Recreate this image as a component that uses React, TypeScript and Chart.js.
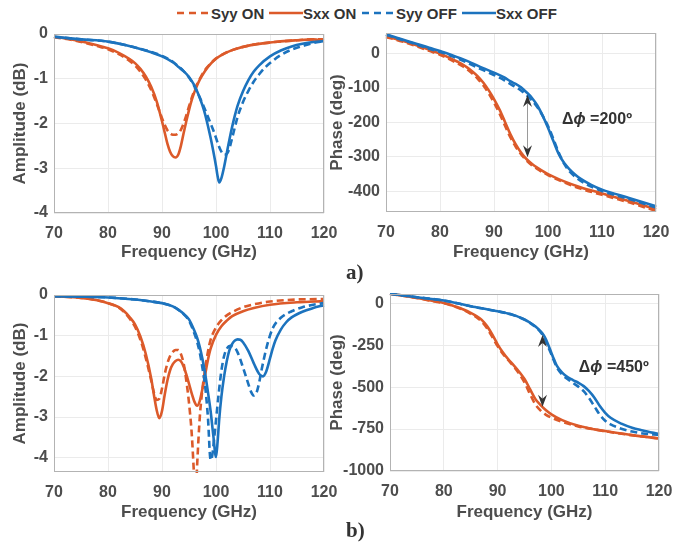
import React, { useEffect, useRef } from "react";
import { Chart, registerables } from "chart.js";
Chart.register(...registerables);

const ORANGE = "#DC5A2A";
const BLUE = "#1C73BE";
const FONT = '"Liberation Sans", Arial, Helvetica, sans-serif';
const TEXT = "#4d4d4d";
const GRID = "#ebebeb";
const BOX = "#b3b3b3";

// ---------- tick labels ----------
const freqTicks = [70, 80, 90, 100, 110, 120];
const ampTicksA = [-4, -3, -2, -1, 0];
const phaseTicksA = [-400, -300, -200, -100, 0];
const ampTicksB = [-4, -3, -2, -1, 0];
const phaseTicksB = [-1000, -750, -500, -250, 0];

const seriesNames = ["Syy ON", "Sxx ON", "Syy OFF", "Sxx OFF"];

// ---------- a) amplitude ----------
const aAmpF_On = [70, 74, 78, 80, 82, 84, 85, 86, 87, 88, 89, 90, 90.5, 91, 91.5, 92, 92.5, 93, 93.5, 94, 94.5, 95, 95.5, 96, 96.5, 97, 98, 99, 100, 101, 103, 106, 110, 115, 118, 120];
const aAmp_SyyOn = [-0.07, -0.15, -0.27, -0.34, -0.45, -0.6, -0.7, -0.84, -1.02, -1.25, -1.55, -1.88, -2.03, -2.15, -2.22, -2.25, -2.25, -2.22, -2.14, -2.0, -1.82, -1.62, -1.43, -1.26, -1.12, -1.0, -0.8, -0.66, -0.55, -0.47, -0.36, -0.26, -0.19, -0.14, -0.12, -0.12];
const aAmp_SxxOn = [-0.06, -0.14, -0.25, -0.32, -0.42, -0.56, -0.65, -0.78, -0.95, -1.18, -1.5, -1.95, -2.2, -2.45, -2.63, -2.73, -2.76, -2.7, -2.5, -2.22, -1.95, -1.7, -1.48, -1.3, -1.15, -1.02, -0.82, -0.67, -0.55, -0.47, -0.36, -0.26, -0.19, -0.14, -0.12, -0.15];
const aAmpF_SyyOff = [70, 75, 80, 85, 88, 90, 92, 93, 94, 95, 96, 97, 98, 99, 99.5, 100, 100.5, 101, 101.5, 102, 102.5, 103, 103.5, 104, 105, 106, 107, 108, 109, 110, 112, 114, 116, 118, 120];
const aAmp_SyyOff = [-0.06, -0.12, -0.17, -0.3, -0.4, -0.49, -0.62, -0.72, -0.83, -0.97, -1.17, -1.42, -1.7, -2.0, -2.15, -2.32, -2.5, -2.63, -2.7, -2.68, -2.55, -2.32, -2.08, -1.85, -1.52, -1.27, -1.06, -0.9, -0.76, -0.65, -0.47, -0.35, -0.27, -0.2, -0.16];
const aAmpF_SxxOff = [70, 75, 80, 85, 88, 90, 92, 93, 94, 95, 96, 96.5, 97, 97.5, 98, 98.5, 99, 99.5, 100, 100.3, 100.6, 101, 101.5, 102, 102.5, 103, 103.5, 104, 105, 106, 107, 108, 110, 112, 114, 116, 118, 120];
const aAmp_SxxOff = [-0.06, -0.12, -0.17, -0.3, -0.41, -0.5, -0.63, -0.73, -0.83, -0.96, -1.15, -1.28, -1.43, -1.6, -1.8, -2.05, -2.32, -2.62, -2.95, -3.18, -3.32, -3.22, -2.97, -2.66, -2.35, -2.07, -1.82, -1.6, -1.28, -1.03, -0.84, -0.7, -0.5, -0.37, -0.28, -0.22, -0.18, -0.16];

// ---------- a) phase ----------
const aPhF_On = [70, 72, 75, 78, 80, 82, 84, 85, 86, 87, 88, 89, 90, 91, 92, 93, 94, 95, 96, 97, 98, 100, 103, 106, 110, 115, 120];
const aPh_SyyOn = [48, 40, 25, 8, -3, -18, -35, -45, -58, -73, -92, -115, -142, -173, -208, -242, -270, -292, -310, -324, -335, -353, -374, -392, -410, -432, -457];
const aPh_SxxOn = [51, 42, 28, 11, 0, -14, -30, -40, -52, -66, -84, -106, -132, -162, -197, -233, -263, -287, -306, -320, -331, -350, -371, -388, -406, -428, -452];
const aPhF_Off = [70, 72, 75, 78, 80, 82, 85, 88, 90, 92, 93, 94, 95, 96, 97, 98, 99, 100, 101, 102, 103, 104, 105, 106, 108, 110, 115, 120];
const aPh_SyyOff = [55, 45, 30, 14, 5, -6, -26, -48, -62, -78, -88, -97, -107, -120, -135, -155, -180, -210, -248, -288, -320, -342, -357, -369, -386, -399, -422, -447];
const aPh_SxxOff = [56, 46, 32, 17, 8, -3, -21, -42, -55, -70, -80, -88, -98, -112, -128, -150, -180, -215, -254, -292, -318, -336, -351, -363, -381, -395, -419, -443];

// ---------- b) amplitude ----------
const bAmpF_SyyOn = [70, 75, 78, 80, 82, 83, 84, 85, 86, 87, 88, 88.5, 89, 89.5, 90, 90.5, 91, 91.5, 92, 92.5, 93, 93.5, 94, 94.5, 95, 95.5, 96, 96.2, 96.5, 97, 97.5, 98, 98.5, 99, 100, 101, 102, 103, 105, 107, 110, 115, 120];
const bAmp_SyyOn = [-0.03, -0.07, -0.13, -0.2, -0.31, -0.42, -0.58, -0.78, -1.1, -1.55, -2.1, -2.4, -2.58, -2.55, -2.3, -1.95, -1.68, -1.5, -1.4, -1.35, -1.35, -1.45, -1.68, -2.1, -2.65, -3.4, -4.6, -5.1, -4.2, -3.0, -2.3, -1.8, -1.4, -1.1, -0.8, -0.62, -0.5, -0.42, -0.3, -0.23, -0.16, -0.11, -0.1];
const bAmpF_SxxOn = [70, 75, 78, 80, 82, 83, 84, 85, 86, 87, 88, 88.5, 89, 89.5, 90, 90.5, 91, 91.5, 92, 92.5, 93, 93.5, 94, 94.5, 95, 95.5, 96, 96.5, 97, 97.5, 98, 98.5, 99, 100, 101, 102, 103, 105, 107, 110, 115, 120];
const bAmp_SxxOn = [-0.03, -0.07, -0.13, -0.2, -0.3, -0.4, -0.54, -0.72, -1.02, -1.45, -2.05, -2.45, -2.82, -3.03, -2.85, -2.45, -2.1, -1.85, -1.7, -1.62, -1.59, -1.63, -1.76, -1.95, -2.18, -2.42, -2.62, -2.72, -2.6, -2.3, -1.95, -1.6, -1.32, -0.98, -0.77, -0.63, -0.52, -0.4, -0.32, -0.24, -0.18, -0.15];
const bAmpF_SyyOff = [70, 75, 80, 85, 88, 90, 92, 93, 94, 95, 96, 96.5, 97, 97.5, 98, 98.5, 99, 99.3, 99.6, 100, 100.5, 101, 101.5, 102, 102.7, 103.5, 104, 105, 106, 106.5, 107, 107.5, 108, 108.5, 109.5, 110.5, 112, 114, 116, 118, 120];
const bAmp_SyyOff = [-0.03, -0.04, -0.06, -0.11, -0.16, -0.2, -0.28, -0.36, -0.47, -0.63, -0.95, -1.15, -1.42, -1.8, -2.25, -3.0, -4.05, -3.95, -3.6, -3.08, -2.42, -1.86, -1.5, -1.32, -1.25, -1.3, -1.41, -1.78, -2.19, -2.38, -2.47, -2.4, -2.15, -1.8, -1.22, -0.82, -0.56, -0.4, -0.3, -0.24, -0.2];
const bAmpF_SxxOff = [70, 75, 80, 85, 88, 90, 92, 93, 94, 95, 96, 96.5, 97, 97.5, 98, 98.5, 99, 99.5, 100, 100.3, 100.6, 101, 101.5, 102, 102.5, 103, 103.5, 104, 104.5, 105, 106, 107, 108, 108.7, 109.3, 110, 110.5, 111, 112, 113, 114, 116, 118, 120];
const bAmp_SxxOff = [-0.03, -0.04, -0.06, -0.11, -0.16, -0.2, -0.28, -0.36, -0.46, -0.6, -0.88, -1.05, -1.28, -1.58, -1.94, -2.38, -2.85, -3.45, -3.98, -3.6, -3.05, -2.5, -2.0, -1.62, -1.35, -1.2, -1.12, -1.09, -1.1, -1.16, -1.38, -1.68, -1.94, -2.0, -1.88, -1.56, -1.32, -1.12, -0.85, -0.67, -0.55, -0.41, -0.32, -0.25];

// ---------- b) phase ----------
const bPhF_On = [70, 75, 78, 80, 82, 83, 84, 85, 86, 87, 88, 89, 90, 91, 92, 93, 94, 95, 96, 97, 98, 99, 100, 102, 105, 108, 110, 115, 120];
const bPh_SyyOn = [55, 31, 12, 0, -20, -32, -46, -63, -82, -108, -147, -200, -256, -302, -340, -377, -420, -472, -540, -602, -640, -665, -682, -707, -734, -752, -763, -787, -806];
const bPh_SxxOn = [56, 32, 14, 2, -18, -28, -42, -58, -75, -98, -135, -186, -245, -294, -335, -370, -408, -452, -510, -570, -607, -638, -662, -697, -731, -752, -762, -786, -806];
const bPhF_Off = [70, 75, 80, 85, 88, 90, 92, 93, 94, 95, 96, 97, 98, 98.5, 99, 99.5, 100, 100.5, 101, 102, 103, 104, 105, 106, 107, 108, 109, 110, 111, 113, 115, 117, 120];
const bPh_SyyOff = [56, 36, 16, -18, -36, -48, -62, -72, -84, -98, -117, -140, -172, -195, -228, -268, -305, -345, -382, -425, -452, -475, -497, -524, -566, -615, -665, -700, -722, -748, -765, -776, -785];
const bPh_SxxOff = [56, 36, 16, -18, -36, -48, -62, -71, -83, -97, -115, -137, -168, -188, -216, -255, -296, -336, -372, -414, -440, -458, -474, -494, -524, -563, -613, -653, -683, -718, -742, -758, -780];

// annotation values (data space)
const arrowA = { x: 96.2, y1: -120, y2: -301, tx: 102.6, ty: -193, text: "=200º" };
const arrowB = { x: 98.2, y1: -189, y2: -617, tx: 105.1, ty: -386, text: "=450º" };

type Series = { name: string; f: number[]; v: number[]; color: string; dashed: boolean };

function makeSeries(fs: number[][], vs: number[][]): Series[] {
  const colors = [ORANGE, ORANGE, BLUE, BLUE];
  const dashed = [true, false, true, false];
  return seriesNames.map((n, i) => ({ name: n, f: fs[i], v: vs[i], color: colors[i], dashed: dashed[i] }));
}

const decoPlugin = {
  id: "panelDeco",
  afterDatasetsDraw(chart: any, _args: any, opts: any) {
    const { ctx, chartArea: a } = chart;
    ctx.save();
    ctx.strokeStyle = BOX;
    ctx.lineWidth = 1;
    ctx.strokeRect(a.left + 0.5, a.top + 0.5, a.right - a.left - 1, a.bottom - a.top - 1);
    const ar = opts && opts.arrow;
    if (ar) {
      const xs = chart.scales.x;
      const ys = chart.scales.y;
      const px = Math.round(xs.getPixelForValue(ar.x)) + 0.5;
      const p1 = ys.getPixelForValue(ar.y1);
      const p2 = ys.getPixelForValue(ar.y2);
      ctx.strokeStyle = "#9a9a9a";
      ctx.lineWidth = 1;
      ctx.beginPath();
      ctx.moveTo(px, p1 + 6);
      ctx.lineTo(px, p2 - 6);
      ctx.stroke();
      ctx.fillStyle = "#333";
      ctx.beginPath();
      ctx.moveTo(px, p1);
      ctx.lineTo(px - 4.5, p1 + 12);
      ctx.lineTo(px, p1 + 8);
      ctx.lineTo(px + 4.5, p1 + 12);
      ctx.closePath();
      ctx.fill();
      ctx.beginPath();
      ctx.moveTo(px, p2);
      ctx.lineTo(px - 4.5, p2 - 12);
      ctx.lineTo(px, p2 - 8);
      ctx.lineTo(px + 4.5, p2 - 12);
      ctx.closePath();
      ctx.fill();
      let tx = xs.getPixelForValue(ar.tx);
      const ty = ys.getPixelForValue(ar.ty);
      ctx.fillStyle = "#333";
      ctx.textBaseline = "middle";
      ctx.textAlign = "left";
      ctx.font = `bold 16px ${FONT}`;
      ctx.fillText("Δ", tx, ty);
      tx += ctx.measureText("Δ").width;
      ctx.font = `italic bold 16px ${FONT}`;
      ctx.fillText("ϕ", tx, ty);
      tx += ctx.measureText("ϕ").width;
      ctx.font = `bold 16px ${FONT}`;
      ctx.fillText(" " + ar.text, tx, ty);
    }
    ctx.restore();
  },
};

type Rect = { l: number; t: number; w: number; h: number };
type Area = { l: number; t: number; r: number; b: number };

type PanelProps = {
  canvas: Rect;
  area: Area;
  yTitleX: number;
  xTitleY: number;
  yTitle: string;
  yMin: number;
  yMax: number;
  yTicks: number[];
  series: Series[];
  arrow?: any;
};

function Panel(p: PanelProps) {
  const ref = useRef<HTMLCanvasElement>(null);
  useEffect(() => {
    const c = ref.current!;
    const { canvas, area } = p;
    const padTop = area.t - canvas.t;
    const yW = area.l - canvas.l;
    const padRight = canvas.l + canvas.w - area.r;
    const xH = canvas.t + canvas.h - area.b;
    const titleSize = 17;
    const lh = titleSize * 1.2;
    const yTitlePad = p.yTitleX - canvas.l - lh / 2;
    const xTitlePad = canvas.t + canvas.h - p.xTitleY - lh / 2;
    const tickFont = { family: FONT, size: 16, weight: "bold" as const };
    const titleFont = { family: FONT, size: titleSize, weight: "bold" as const };
    const n = p.series.length;
    const chart = new Chart(c, {
      type: "line",
      data: {
        datasets: p.series.map((s, i) => ({
          label: s.name,
          data: s.f.map((x, k) => ({ x, y: s.v[k] })),
          borderColor: s.color,
          backgroundColor: s.color,
          borderWidth: 2.6,
          borderDash: s.dashed ? [7, 4] : [],
          pointRadius: 0,
          fill: false,
          cubicInterpolationMode: "monotone",
          order: n - 1 - i,
          clip: 1,
        })) as any,
      },
      options: {
        responsive: false,
        animation: false,
        events: [],
        layout: { padding: { left: 0, top: padTop, right: padRight, bottom: 0 } },
        plugins: {
          legend: { display: false },
          tooltip: { enabled: false },
          panelDeco: { arrow: p.arrow },
        } as any,
        scales: {
          x: {
            type: "linear",
            min: 70,
            max: 120,
            afterBuildTicks: (s: any) => {
              s.ticks = freqTicks.map((v) => ({ value: v }));
            },
            afterFit: (s: any) => {
              s.height = xH;
              s.paddingLeft = 0;
              s.paddingRight = 0;
              s.paddingTop = 0;
              s.paddingBottom = 0;
            },
            ticks: {
              callback: (v: any) => String(v),
              font: tickFont,
              color: TEXT,
              padding: 11,
              maxRotation: 0,
              autoSkip: false,
            },
            grid: { color: GRID, drawTicks: false, lineWidth: 1 },
            border: { display: false },
            title: {
              display: true,
              text: "Frequency (GHz)",
              font: titleFont,
              color: TEXT,
              padding: { top: 0, bottom: xTitlePad },
            },
          },
          y: {
            type: "linear",
            min: p.yMin,
            max: p.yMax,
            afterBuildTicks: (s: any) => {
              s.ticks = p.yTicks.map((v) => ({ value: v }));
            },
            afterFit: (s: any) => {
              s.width = yW;
              s.paddingLeft = 0;
              s.paddingRight = 0;
              s.paddingTop = 0;
              s.paddingBottom = 0;
            },
            ticks: {
              callback: (v: any) => String(v),
              font: tickFont,
              color: TEXT,
              padding: 6,
              autoSkip: false,
            },
            grid: { color: GRID, drawTicks: false, lineWidth: 1 },
            border: { display: false },
            title: {
              display: true,
              text: p.yTitle,
              font: titleFont,
              color: TEXT,
              padding: { top: yTitlePad, bottom: 0 },
            },
          },
        },
      } as any,
      plugins: [decoPlugin as any],
    });
    return () => chart.destroy();
  }, []);
  return (
    <canvas
      ref={ref}
      width={p.canvas.w}
      height={p.canvas.h}
      style={{ position: "absolute", left: p.canvas.l, top: p.canvas.t, width: p.canvas.w, height: p.canvas.h }}
    />
  );
}

const legendLayout = [
  { x: 177, color: ORANGE, dashed: true },
  { x: 269, color: ORANGE, dashed: false },
  { x: 362, color: BLUE, dashed: true },
  { x: 462, color: BLUE, dashed: false },
];

function Legend() {
  return (
    <>
      {seriesNames.map((name, i) => {
        const it = legendLayout[i];
        return (
          <div
            key={name}
            style={{ position: "absolute", left: it.x, top: 3, height: 20, display: "flex", alignItems: "center", whiteSpace: "nowrap" }}
          >
            <svg width={34} height={6} style={{ display: "block" }}>
              <line x1={0} y1={3} x2={34} y2={3} stroke={it.color} strokeWidth={2.5} strokeDasharray={it.dashed ? "7 5" : undefined} />
            </svg>
            <span style={{ font: `bold 15px ${FONT}`, color: "#333", marginLeft: 0 }}>{name}</span>
          </div>
        );
      })}
    </>
  );
}

export default function App() {
  const seriesAAmp = makeSeries([aAmpF_On, aAmpF_On, aAmpF_SyyOff, aAmpF_SxxOff], [aAmp_SyyOn, aAmp_SxxOn, aAmp_SyyOff, aAmp_SxxOff]);
  const seriesAPh = makeSeries([aPhF_On, aPhF_On, aPhF_Off, aPhF_Off], [aPh_SyyOn, aPh_SxxOn, aPh_SyyOff, aPh_SxxOff]);
  const seriesBAmp = makeSeries([bAmpF_SyyOn, bAmpF_SxxOn, bAmpF_SyyOff, bAmpF_SxxOff], [bAmp_SyyOn, bAmp_SxxOn, bAmp_SyyOff, bAmp_SxxOff]);
  const seriesBPh = makeSeries([bPhF_On, bPhF_On, bPhF_Off, bPhF_Off], [bPh_SyyOn, bPh_SxxOn, bPh_SyyOff, bPh_SxxOff]);
  const serif = '"Liberation Serif", "Times New Roman", serif';
  return (
    <div style={{ position: "absolute", left: 0, top: 0, width: 697, height: 542, background: "#fff", overflow: "hidden" }}>
      <Legend />
      <Panel
        canvas={{ l: 0, t: 20, w: 345, h: 250 }}
        area={{ l: 54, t: 34, r: 324, b: 213 }}
        yTitleX={20}
        xTitleY={252}
        yTitle="Amplitude (dB)"
        yMin={-4}
        yMax={0}
        yTicks={ampTicksA}
        series={seriesAAmp}
      />
      <Panel
        canvas={{ l: 322, t: 20, w: 375, h: 250 }}
        area={{ l: 386, t: 33, r: 656, b: 212 }}
        yTitleX={337}
        xTitleY={252}
        yTitle="Phase (deg)"
        yMin={-460}
        yMax={60}
        yTicks={phaseTicksA}
        series={seriesAPh}
        arrow={arrowA}
      />
      <Panel
        canvas={{ l: 0, t: 280, w: 345, h: 250 }}
        area={{ l: 54, t: 295, r: 324, b: 472 }}
        yTitleX={20}
        xTitleY={512}
        yTitle="Amplitude (dB)"
        yMin={-4.35}
        yMax={0}
        yTicks={ampTicksB}
        series={seriesBAmp}
      />
      <Panel
        canvas={{ l: 322, t: 280, w: 375, h: 250 }}
        area={{ l: 390, t: 294, r: 659, b: 471 }}
        yTitleX={337}
        xTitleY={512}
        yTitle="Phase (deg)"
        yMin={-1000}
        yMax={55}
        yTicks={phaseTicksB}
        series={seriesBPh}
        arrow={arrowB}
      />
      <div style={{ position: "absolute", left: 346, top: 259, font: `bold 21px ${serif}`, lineHeight: "26px", color: "#333" }}>a)</div>
      <div style={{ position: "absolute", left: 346, top: 517, font: `bold 21px ${serif}`, lineHeight: "26px", color: "#333" }}>b)</div>
    </div>
  );
}
